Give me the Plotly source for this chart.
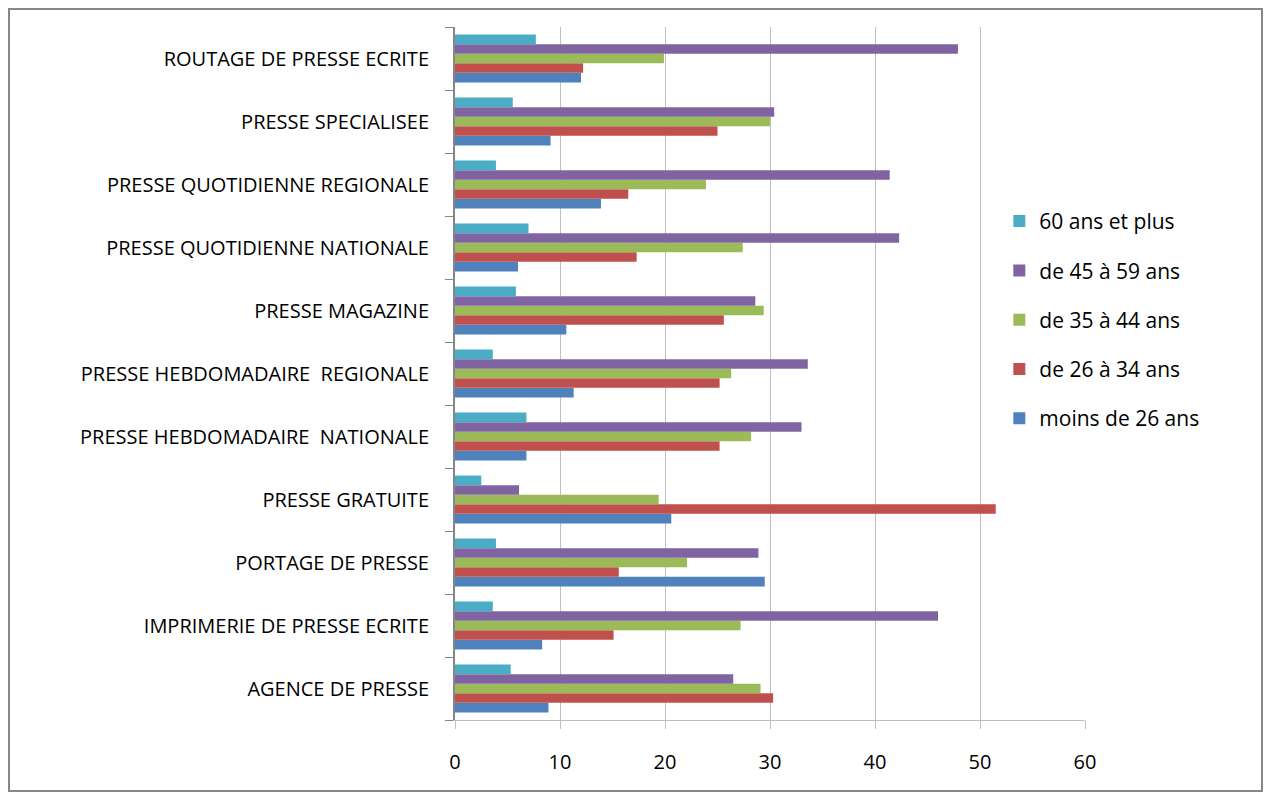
import plotly.graph_objects as go

# Secteurs (de bas en haut, comme sur l'axe)
categories = [
    "AGENCE DE PRESSE",
    "IMPRIMERIE DE PRESSE ECRITE",
    "PORTAGE DE PRESSE",
    "PRESSE GRATUITE",
    "PRESSE HEBDOMADAIRE  NATIONALE",
    "PRESSE HEBDOMADAIRE  REGIONALE",
    "PRESSE MAGAZINE",
    "PRESSE QUOTIDIENNE NATIONALE",
    "PRESSE QUOTIDIENNE REGIONALE",
    "PRESSE SPECIALISEE",
    "ROUTAGE DE PRESSE ECRITE",
]

moins_26 = [8.9, 8.3, 29.5, 20.6, 6.8, 11.3, 10.6, 6.0, 13.9, 9.1, 12.0]
de_26_34 = [30.3, 15.1, 15.6, 51.5, 25.2, 25.2, 25.6, 17.3, 16.5, 25.0, 12.2]
de_35_44 = [29.1, 27.2, 22.1, 19.4, 28.2, 26.3, 29.4, 27.4, 23.9, 30.0, 19.9]
de_45_59 = [26.5, 46.0, 28.9, 6.1, 33.0, 33.6, 28.6, 42.3, 41.4, 30.4, 47.9]
plus_60 = [5.3, 3.6, 3.9, 2.5, 6.8, 3.6, 5.8, 7.0, 3.9, 5.5, 7.7]

series = [
    ("moins de 26 ans", moins_26, "#4F81BD"),
    ("de 26 à 34 ans", de_26_34, "#C0504D"),
    ("de 35 à 44 ans", de_35_44, "#9BBB59"),
    ("de 45 à 59 ans", de_45_59, "#8064A2"),
    ("60 ans et plus", plus_60, "#4BACC6"),
]

FONT = "'Open Sans', sans-serif"

fig = go.Figure()
for i, (name, values, color) in enumerate(series):
    fig.add_trace(
        go.Bar(
            y=categories,
            x=values,
            name=name,
            orientation="h",
            marker=dict(color=color, line=dict(width=0)),
            legendgroup=name,
            legendrank=len(series) - i,  # 60 ans et plus en haut de la légende
        )
    )

fig.update_layout(
    width=1264,
    height=792,
    barmode="group",
    bargap=0.24,
    bargroupgap=0,
    plot_bgcolor="white",
    paper_bgcolor="white",
    font=dict(family=FONT, size=20, color="#000000"),
    margin=dict(l=455, r=179, t=27, b=72),
    showlegend=True,
    legend=dict(
        x=0.864,
        y=0.749,
        xanchor="left",
        yanchor="top",
        bgcolor="white",
        traceorder="grouped",
        tracegroupgap=19,
        font=dict(family=FONT, size=21, color="#000000"),
    ),
    xaxis=dict(
        range=[0, 60],
        tickvals=[0, 10, 20, 30, 40, 50, 60],
        tickfont=dict(size=20),
        showgrid=True,
        gridcolor="#BFBFBF",
        gridwidth=1.3,
        zeroline=False,
        showline=True,
        linecolor="#BFBFBF",
        linewidth=1,
        ticks="outside",
        ticklen=8,
        tickcolor="#BFBFBF",
        ticklabelstandoff=16,
    ),
    yaxis=dict(
        showgrid=False,
        showline=True,
        linecolor="#868686",
        linewidth=2,
        ticks="outside",
        ticklen=8,
        tickcolor="#868686",
        tickson="boundaries",
        ticklabelstandoff=20,
    ),
    shapes=[
        dict(
            type="rect",
            xref="paper",
            yref="paper",
            x0=-(455 - 9) / 630,
            x1=1 + (1262 - 1085) / 630,
            y0=-(791 - 720) / 693,
            y1=1 + (27 - 9) / 693,
            line=dict(color="#868686", width=2),
            fillcolor="rgba(0,0,0,0)",
            layer="above",
        )
    ],
)

fig.write_html(
    "out.html",
    config={"displayModeBar": False},
    post_script="document.body.style.margin='0';",
)
